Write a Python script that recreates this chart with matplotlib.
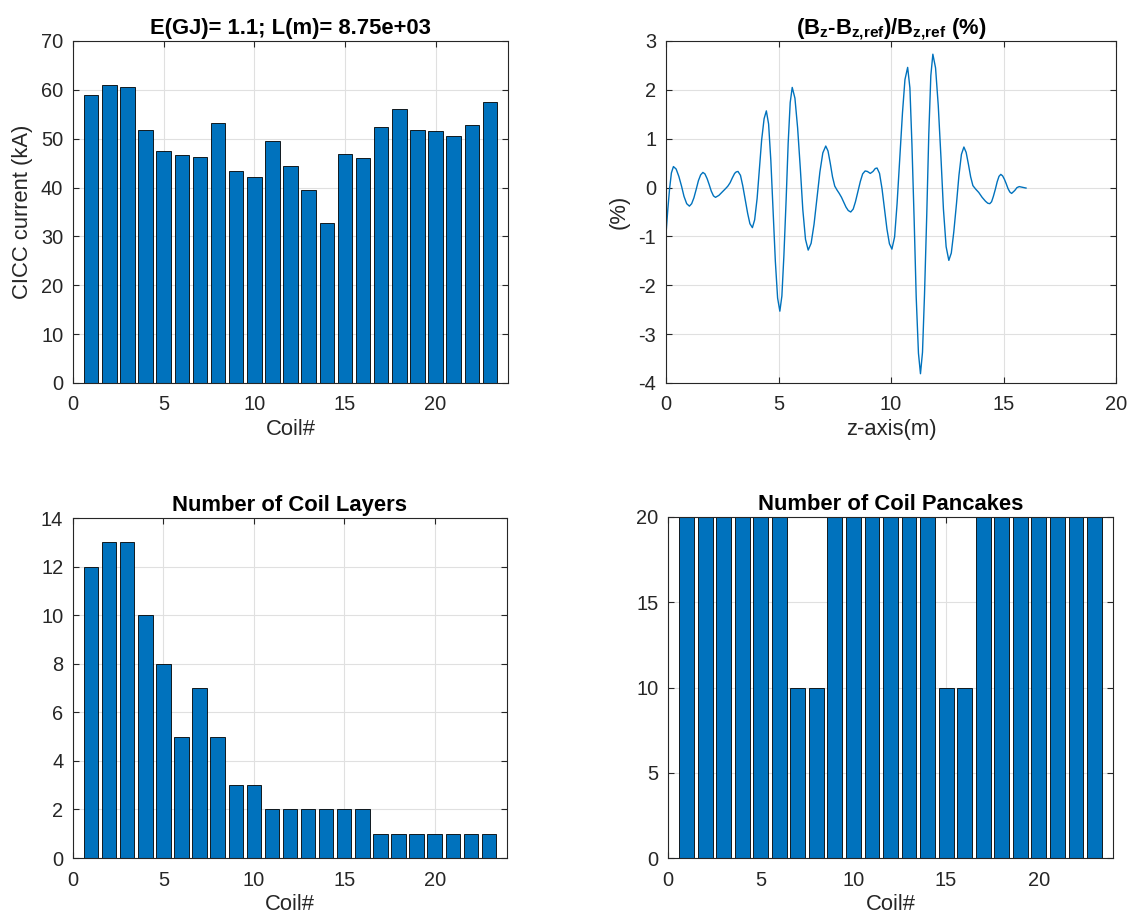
import matplotlib
matplotlib.use("Agg")
import matplotlib.pyplot as plt

plt.rcParams['font.family'] = ['Liberation Sans', 'DejaVu Sans']
plt.rcParams['mathtext.default'] = 'regular'
plt.rcParams['axes.unicode_minus'] = False

# coil data
coil_ids = list(range(1, 24))
cicc_current = [59.0, 61.0, 60.5, 51.8, 47.5, 46.7, 46.3, 53.2, 43.3, 42.2, 49.6, 44.4,
                39.6, 32.8, 46.9, 46.0, 52.4, 56.1, 51.8, 51.6, 50.6, 52.9, 57.5]
coil_layers = [12, 13, 13, 10, 8, 5, 7, 5, 3, 3, 2, 2, 2, 2, 2, 2, 1, 1, 1, 1, 1, 1, 1]
coil_pancakes = [20, 20, 20, 20, 20, 20, 10, 10, 20, 20, 20, 20, 20, 20, 10, 10,
                 20, 20, 20, 20, 20, 20, 20]

# field deviation along the axis
z_axis = [0.00, 0.08, 0.16, 0.24, 0.33,
          0.45, 0.57, 0.69, 0.80, 0.92, 1.04,
          1.14, 1.24, 1.34, 1.44, 1.54, 1.64,
          1.73, 1.83, 1.92, 2.01, 2.11, 2.20,
          2.35, 2.50, 2.65, 2.75, 2.85, 2.95, 3.05, 3.12, 3.20,
          3.31, 3.41, 3.52, 3.63, 3.73, 3.84,
          3.94, 4.05, 4.15, 4.25, 4.36, 4.46,
          4.56, 4.66, 4.76, 4.86, 4.96, 5.06,
          5.15, 5.24, 5.34, 5.43, 5.52, 5.61,
          5.73, 5.85, 5.97, 6.08, 6.20, 6.32,
          6.45, 6.58, 6.71, 6.84, 6.97, 7.10,
          7.20, 7.30, 7.40, 7.50, 7.60, 7.70, 7.80, 7.90, 8.00, 8.10, 8.21,
          8.32, 8.42, 8.53, 8.64, 8.74, 8.85, 8.95, 9.08, 9.20, 9.30, 9.38,
          9.49, 9.60, 9.71, 9.82, 9.93, 10.04,
          10.16, 10.27, 10.39, 10.51, 10.62, 10.74,
          10.84, 10.93, 11.03, 11.12, 11.22, 11.31,
          11.40, 11.49, 11.59, 11.68, 11.77, 11.86,
          11.98, 12.10, 12.22, 12.33, 12.45, 12.57,
          12.68, 12.79, 12.91, 13.02, 13.13, 13.24,
          13.34, 13.44, 13.54, 13.64, 13.76, 13.90, 14.05, 14.20, 14.30, 14.39,
          14.47, 14.55, 14.64, 14.72, 14.80, 14.88,
          14.96, 15.04, 15.12, 15.20, 15.28, 15.36,
          15.50, 15.60, 15.70, 15.80, 15.90, 16.00]
bz_dev = [-0.95, -0.45, -0.02, 0.30, 0.43,
          0.38, 0.23, 0.03, -0.18, -0.33, -0.38,
          -0.33, -0.21, -0.04, 0.14, 0.26, 0.31,
          0.28, 0.18, 0.06, -0.07, -0.17, -0.20,
          -0.16, -0.09, -0.02, 0.03, 0.10, 0.20, 0.29, 0.32, 0.33,
          0.25, 0.04, -0.25, -0.53, -0.74, -0.82,
          -0.66, -0.22, 0.38, 0.97, 1.41, 1.57,
          1.30, 0.55, -0.48, -1.51, -2.26, -2.53,
          -2.22, -1.39, -0.24, 0.91, 1.74, 2.05,
          1.83, 1.22, 0.39, -0.45, -1.06, -1.28,
          -1.14, -0.75, -0.22, 0.32, 0.71, 0.85,
          0.75, 0.50, 0.22, 0.03, -0.05, -0.12, -0.20, -0.30, -0.40, -0.47, -0.50,
          -0.44, -0.29, -0.08, 0.13, 0.28, 0.34, 0.33, 0.29, 0.33, 0.39, 0.40,
          0.29, -0.02, -0.43, -0.85, -1.15, -1.26,
          -1.01, -0.33, 0.60, 1.53, 2.21, 2.46,
          2.04, 0.89, -0.68, -2.24, -3.39, -3.81,
          -3.37, -2.18, -0.54, 1.10, 2.29, 2.73,
          2.45, 1.68, 0.62, -0.44, -1.21, -1.49,
          -1.34, -0.91, -0.33, 0.25, 0.68, 0.83,
          0.72, 0.48, 0.22, 0.04, -0.03, -0.10, -0.20, -0.28, -0.32, -0.33,
          -0.29, -0.18, -0.03, 0.12, 0.23, 0.27,
          0.24, 0.17, 0.08, -0.02, -0.09, -0.12,
          -0.06, 0.00, 0.02, 0.01, 0.00, -0.01]

bar_color = '#0072BD'
txt_color = '#262626'
W, H = 1132, 924
tick_fs = 14.4
label_fs = 15.8
title_fs = 15.8


def style_axes(ax):
    ax.grid(True, color='#e0e0e0', linewidth=0.8)
    ax.set_axisbelow(True)
    ax.tick_params(direction='in', top=True, right=True, labelsize=tick_fs,
                   colors=txt_color, length=4)
    ax.tick_params(axis='x', pad=9)
    ax.tick_params(axis='y', pad=7)
    for s in ax.spines.values():
        s.set_color(txt_color)
        s.set_linewidth(0.8)


def make_axes(fig, left, top, right, bottom):
    return fig.add_axes([left / W, 1 - bottom / H, (right - left) / W, (bottom - top) / H])


fig = plt.figure(figsize=(W / 100, H / 100), dpi=100)

# CICC current
ax1 = make_axes(fig, 73, 41, 508, 383)
ax1.bar(coil_ids, cicc_current, width=0.8, color=bar_color, edgecolor='black', linewidth=0.6)
ax1.set_xlim(0, 24)
ax1.set_ylim(0, 70)
ax1.set_xticks([0, 5, 10, 15, 20])
ax1.set_yticks(range(0, 71, 10))
ax1.set_xlabel('Coil#', fontsize=label_fs, color=txt_color, labelpad=3)
ax1.set_ylabel('CICC current (kA)', fontsize=label_fs, color=txt_color, labelpad=6)
ax1.set_title('E(GJ)= 1.1; L(m)= 8.75e+03', fontsize=title_fs, fontweight='bold', pad=5)
style_axes(ax1)

# field deviation
ax2 = make_axes(fig, 666, 41, 1116, 383)
ax2.plot(z_axis, bz_dev, color=bar_color, linewidth=1.0)
ax2.set_xlim(0, 20)
ax2.set_ylim(-4, 3)
ax2.set_xticks([0, 5, 10, 15, 20])
ax2.set_yticks(range(-4, 4))
ax2.set_xlabel('z-axis(m)', fontsize=label_fs, color=txt_color, labelpad=3)
ax2.set_ylabel('(%)', fontsize=label_fs, color=txt_color, labelpad=6)
ax2.set_title('$(B_z$-$B_{z{,}ref})/B_{z{,}ref}$ (%)', fontsize=title_fs,
              fontweight='bold', pad=5)
style_axes(ax2)

# layers
ax3 = make_axes(fig, 73, 518, 507, 858)
ax3.bar(coil_ids, coil_layers, width=0.8, color=bar_color, edgecolor='black', linewidth=0.6)
ax3.set_xlim(0, 24)
ax3.set_ylim(0, 14)
ax3.set_xticks([0, 5, 10, 15, 20])
ax3.set_yticks(range(0, 15, 2))
ax3.set_xlabel('Coil#', fontsize=label_fs, color=txt_color, labelpad=3)
ax3.set_title('Number of Coil Layers', fontsize=title_fs, fontweight='bold', pad=5)
style_axes(ax3)

# pancakes
ax4 = make_axes(fig, 668, 517, 1113, 858)
ax4.bar(coil_ids, coil_pancakes, width=0.8, color=bar_color, edgecolor='black', linewidth=0.6)
ax4.set_xlim(0, 24)
ax4.set_ylim(0, 20)
ax4.set_xticks([0, 5, 10, 15, 20])
ax4.set_yticks(range(0, 21, 5))
ax4.set_xlabel('Coil#', fontsize=label_fs, color=txt_color, labelpad=3)
ax4.set_title('Number of Coil Pancakes', fontsize=title_fs, fontweight='bold', pad=5)
style_axes(ax4)

fig.savefig('out.png', dpi=100, facecolor='white')
